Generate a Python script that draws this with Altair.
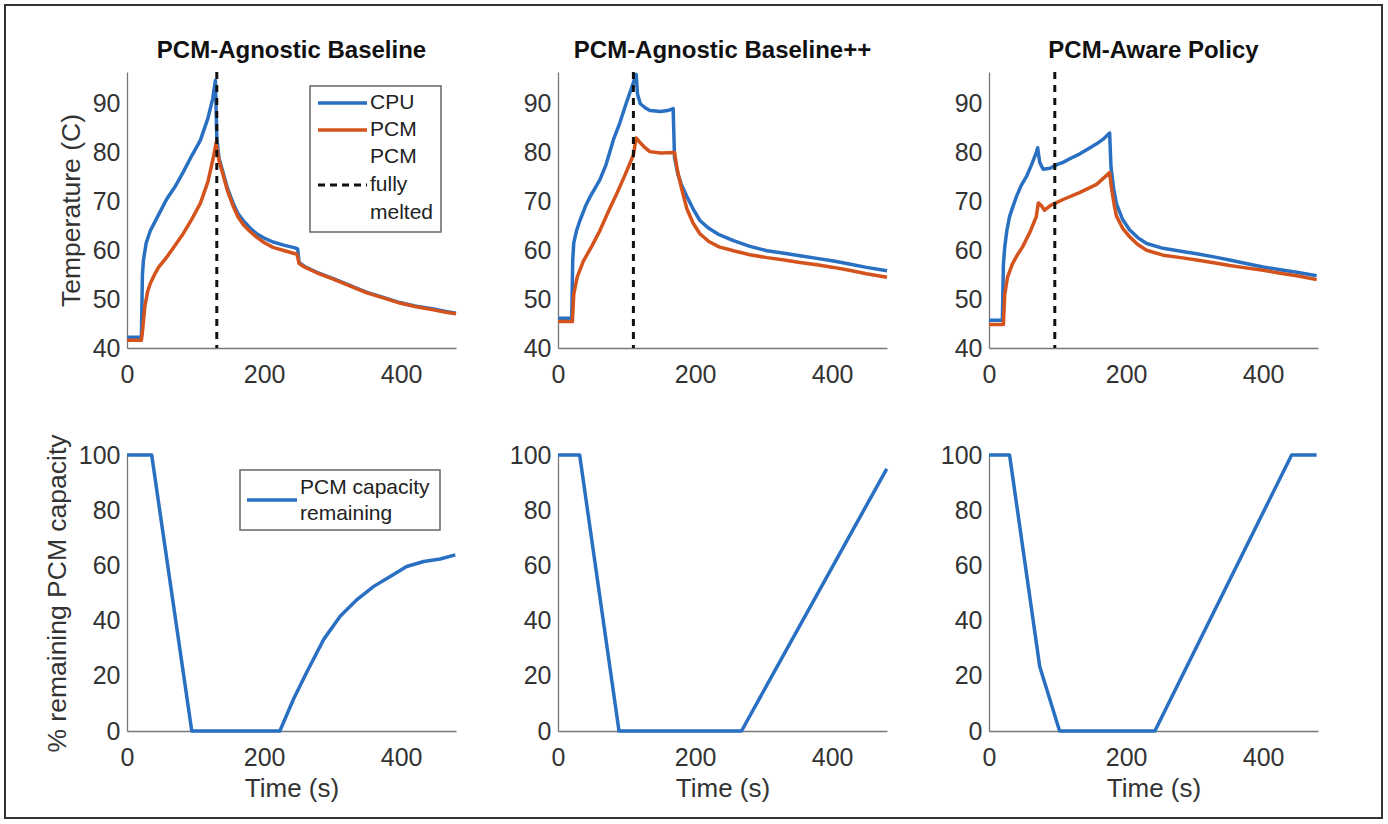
import altair as alt
import pandas as pd

# ---- Temperature traces (time in s, temperature in C) ----
# PCM-Agnostic Baseline
base_cpu_t = [0, 21, 22.5, 24, 28, 34, 45, 58, 70, 82, 95, 107, 118, 125, 129, 131, 134, 140, 147,
              155, 162, 170, 180, 189, 200, 213, 230, 245, 249, 251, 260, 277, 301, 325, 350, 375,
              398, 420, 447, 465, 480]
base_cpu = [42.2, 42.2, 55, 58, 61.5, 64, 67, 70.5, 73, 76, 79.5, 82.5, 87, 91, 94.8, 83, 79, 76,
            72.5, 69.6, 67.5, 66, 64.5, 63.4, 62.5, 61.7, 61, 60.5, 60.3, 57.5, 56.6, 55.5, 54.2,
            52.8, 51.4, 50.3, 49.3, 48.6, 48, 47.5, 47.1]
base_pcm_t = [0, 21, 23, 26, 30, 34, 40, 46, 58, 70, 82, 95, 107, 118, 126, 130, 134, 140, 147,
              155, 162, 170, 180, 189, 200, 213, 230, 248, 251, 260, 277, 301, 325, 350, 375, 398,
              420, 447, 465, 480]
base_pcm = [41.6, 41.6, 44, 48.5, 51.5, 53.2, 55, 56.5, 58.6, 61, 63.4, 66.5, 69.6, 74, 79, 82,
            78.5, 75.5, 72, 69, 66.8, 65.2, 63.8, 62.7, 61.6, 60.6, 59.9, 59.2, 57.3, 56.5, 55.4,
            54.1, 52.7, 51.3, 50.2, 49.2, 48.5, 47.8, 47.3, 47.0]

# PCM-Agnostic Baseline++
plus_cpu_t = [0, 20, 21.5, 23, 27, 32, 40, 47, 61, 70, 81, 90, 100, 108, 114, 116, 120, 127, 134,
              150, 160, 168, 170, 175, 180, 188, 197, 207, 220, 235, 256, 280, 305, 330, 353, 380,
              402, 425, 450, 480]
plus_cpu = [46.1, 46.1, 58, 61.5, 64, 66.1, 69, 71, 74.4, 77.5, 82.7, 86, 90.3, 93.5, 96, 92, 90,
            89.2, 88.6, 88.4, 88.6, 89, 79, 75.5, 73.5, 71, 68.5, 66.1, 64.5, 63.2, 62, 60.8, 59.9,
            59.4, 58.9, 58.3, 57.8, 57.2, 56.5, 55.8]
plus_pcm_t = [0, 21, 23, 28, 37, 50, 61, 73, 86, 98, 110, 114, 120, 127, 134, 150, 170, 174, 180,
              188, 197, 207, 220, 235, 256, 280, 305, 330, 353, 380, 402, 425, 450, 480]
plus_pcm = [45.4, 45.4, 51, 54.5, 57.8, 61, 64, 67.8, 71.7, 75.5, 79.5, 83, 82, 81, 80.2, 79.9, 80,
            76.5, 72.8, 68.5, 65.6, 63.4, 61.8, 60.7, 59.9, 59.1, 58.5, 58, 57.5, 57, 56.5, 55.9,
            55.2, 54.5]

# PCM-Aware Policy
aware_cpu_t = [0, 19.5, 21, 23, 26, 30, 35, 40, 47, 55, 62, 69, 71, 74, 79, 89, 100, 108, 120, 132,
               145, 157, 167, 176, 178, 182, 186, 195, 205, 217, 230, 254, 280, 303, 330, 351, 375,
               400, 425, 449, 478]
aware_cpu = [45.7, 45.7, 57, 60.7, 64, 66.9, 69, 71, 73.3, 75.2, 77.5, 80, 81, 78, 76.6, 76.8, 77.6,
             78, 78.9, 79.7, 80.8, 81.8, 82.8, 84, 77, 72.5, 69.5, 66.3, 64.2, 62.6, 61.4, 60.4,
             59.8, 59.3, 58.6, 58, 57.3, 56.6, 56, 55.5, 54.8]
aware_pcm_t = [0, 21, 23, 27, 34.5, 42, 49, 60, 69, 72, 76, 81, 90, 108, 132, 157, 176, 179, 183,
               186, 195, 205, 217, 230, 254, 280, 303, 330, 351, 375, 400, 425, 449, 478]
aware_pcm = [44.8, 44.8, 51, 54.5, 57.3, 59.2, 60.7, 63.8, 66.9, 69.7, 69.2, 68.2, 69.2, 70.4, 71.8,
             73.5, 75.9, 72.5, 69, 67, 64.5, 62.8, 61.2, 60, 59, 58.5, 58, 57.4, 56.9, 56.4, 55.9,
             55.3, 54.8, 54]

# Moment the PCM is fully melted (s)
melt_times = [131, 110, 96]

# ---- Remaining PCM capacity (%) ----
base_cap_t = [0, 36, 94.5, 223, 243, 262, 287, 311, 336, 360, 384, 408, 433, 457, 479]
base_cap = [100, 100, 0, 0, 11.6, 21.2, 33.2, 41.6, 47.7, 52.4, 56, 59.6, 61.4, 62.3, 63.8]
plus_cap_t = [0, 31.6, 89, 267.7, 479.6]
plus_cap = [100, 100, 0, 0, 95]
aware_cap_t = [0, 30, 74, 103, 242, 441.5, 478]
aware_cap = [100, 100, 23.4, 0, 0, 100, 100]

titles = ["PCM-Agnostic Baseline", "PCM-Agnostic Baseline++", "PCM-Aware Policy"]

BLUE = "#2a70c2"
ORANGE = "#d4531c"
FONT = "Liberation Sans"
W, H = 329, 276
T_DOMAIN = [40, 96.5]
C_DOMAIN = [0, 100]
X_DOMAIN = [0, 480]
LINE_W = 3.5

one = pd.DataFrame({"k": [0]})


def x_enc(show_title):
    if show_title:
        axis = alt.Axis(values=[0, 200, 400], title="Time (s)", labelFlush=False,
                        labelPadding=14, titlePadding=5)
    else:
        axis = alt.Axis(values=[0, 200, 400], title=None, labelFlush=False, labelPadding=14)
    return alt.X("t:Q", scale=alt.Scale(domain=X_DOMAIN, nice=False, zero=False), axis=axis)


def y_enc(domain, ticks, title):
    if title:
        axis = alt.Axis(values=ticks, labelPadding=7, titlePadding=7, title=title)
    else:
        axis = alt.Axis(values=ticks, labelPadding=7, title=None)
    return alt.Y("v:Q", scale=alt.Scale(domain=domain, nice=False, zero=False), axis=axis)


def trace(t, v, color, domain, ticks, ytitle, xtitle):
    df = pd.DataFrame({"t": t, "v": v})
    return alt.Chart(df).mark_line(color=color, strokeWidth=LINE_W, strokeJoin="round").encode(
        x=x_enc(xtitle), y=y_enc(domain, ticks, ytitle))


def melt_rule(t):
    return alt.Chart(pd.DataFrame({"t": [t]})).mark_rule(
        color="#111", strokeDash=[7, 6], strokeWidth=3
    ).encode(x=alt.X("t:Q"), y=alt.value(0), y2=alt.value(H))


def box(x0, y0, x1, y1, fill="white", stroke="#666", width=1.5):
    return alt.Chart(one).mark_rect(fill=fill, stroke=stroke, strokeWidth=width).encode(
        x=alt.value(x0), x2=alt.value(x1), y=alt.value(y0), y2=alt.value(y1))


def key_line(x0, x1, y, color, dash=None):
    kw = dict(color=color, strokeWidth=LINE_W)
    if dash:
        kw["strokeDash"] = dash
        kw["strokeWidth"] = 3
    return alt.Chart(one).mark_rule(**kw).encode(
        x=alt.value(x0), x2=alt.value(x1), y=alt.value(y))


def key_text(x, y, s):
    return alt.Chart(one).mark_text(align="left", baseline="middle", font=FONT, fontSize=21,
                                    color="#222").encode(
        x=alt.value(x), y=alt.value(y), text=alt.value(s))


temp_series = [
    (base_cpu_t, base_cpu, base_pcm_t, base_pcm),
    (plus_cpu_t, plus_cpu, plus_pcm_t, plus_pcm),
    (aware_cpu_t, aware_cpu, aware_pcm_t, aware_pcm),
]
cap_series = [(base_cap_t, base_cap), (plus_cap_t, plus_cap), (aware_cap_t, aware_cap)]

t_ticks = [40, 50, 60, 70, 80, 90]
c_ticks = [0, 20, 40, 60, 80, 100]

top_row = []
for i, (ct, cv, pt, pv) in enumerate(temp_series):
    ytitle = "Temperature (C)" if i == 0 else None
    layers = [
        trace(ct, cv, BLUE, T_DOMAIN, t_ticks, ytitle, False),
        trace(pt, pv, ORANGE, T_DOMAIN, t_ticks, ytitle, False),
        melt_rule(melt_times[i]),
    ]
    if i == 0:
        layers += [
            box(183, 14, 314, 160),
            key_line(191, 240, 31, BLUE), key_text(243, 31, "CPU"),
            key_line(191, 240, 58, ORANGE), key_text(243, 58, "PCM"),
            key_text(243, 85, "PCM"),
            key_line(191, 240, 113, "#111", [7, 5]), key_text(243, 113, "fully"),
            key_text(243, 141, "melted"),
        ]
    top_row.append(alt.layer(*layers).properties(
        width=W, height=H,
        title=alt.TitleParams(titles[i], font=FONT, fontSize=24, fontWeight="bold",
                              color="#111", anchor="middle", offset=8)))

bottom_row = []
for i, (t, v) in enumerate(cap_series):
    ytitle = "% remaining PCM capacity" if i == 0 else None
    layers = []
    if i == 0:
        # figure frame around all six panels
        layers.append(alt.Chart(one).mark_rect(fillOpacity=0, stroke="#333", strokeWidth=2).encode(
            x=alt.value(-122), x2=alt.value(1255), y=alt.value(-450), y2=alt.value(363)))
    layers.append(trace(t, v, BLUE, C_DOMAIN, c_ticks, ytitle, True))
    if i == 0:
        layers += [
            box(113, 15, 313, 75),
            key_line(120, 170, 45, BLUE),
            key_text(173, 33, "PCM capacity"),
            key_text(173, 59, "remaining"),
        ]
    bottom_row.append(alt.layer(*layers).properties(width=W, height=H))

chart = alt.concat(
    *(top_row + bottom_row), columns=3, spacing={"row": 107, "column": 102}, bounds="flush"
).properties(
    padding={"left": 4, "top": 4, "right": 4, "bottom": 4},
    background="white",
).configure_view(
    strokeWidth=0
).configure_axis(
    grid=False, ticks=False, tickSize=0,
    domainColor="#777", domainWidth=1.3,
    labelFont=FONT, labelFontSize=25, labelColor="#333",
    titleFont=FONT, titleFontSize=26.5, titleFontWeight="normal", titleColor="#333",
).configure_axisX(titleFontSize=26)

chart.save("out.html", embed_options={"renderer": "svg", "actions": False})
